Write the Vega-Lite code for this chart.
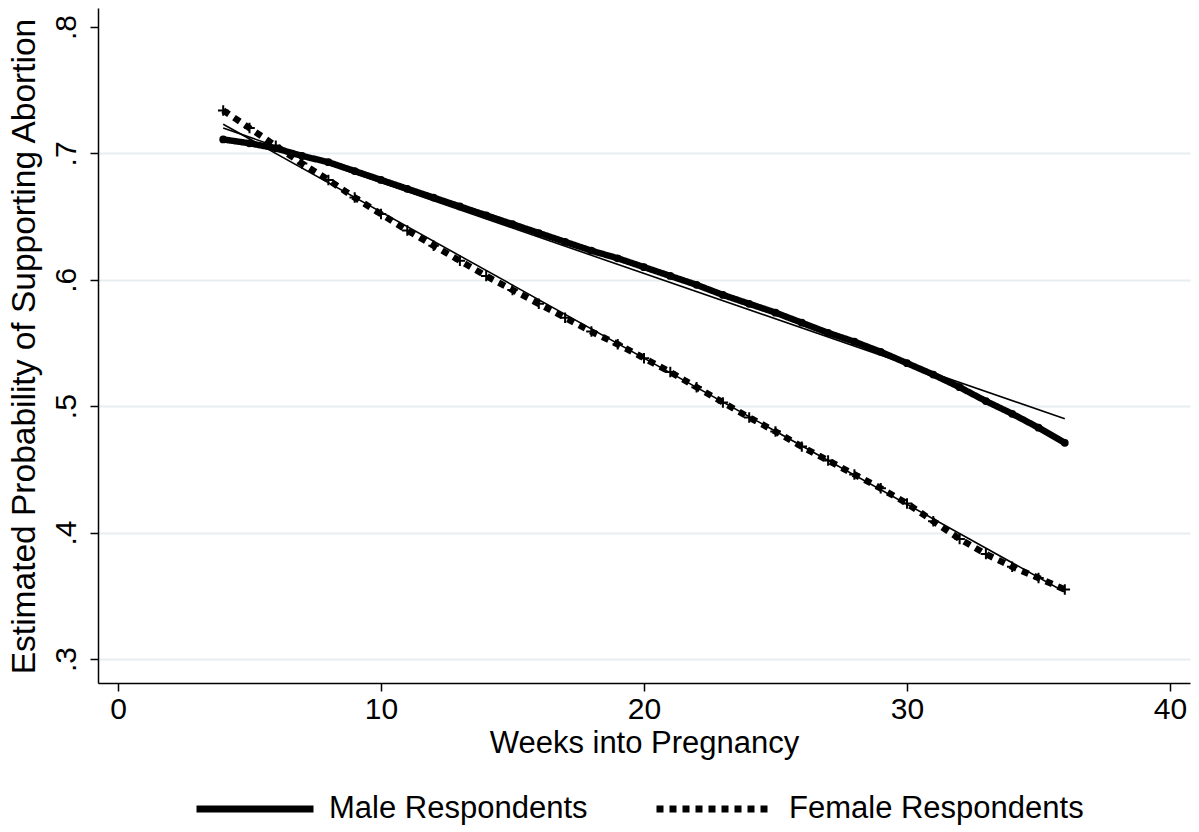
{
  "$schema": "https://vega.github.io/schema/vega-lite/v6.json",
  "autosize": "none",
  "width": 1092,
  "height": 675,
  "padding": {"left": 98, "top": 8, "right": 9, "bottom": 149},
  "background": "white",
  "config": {
    "view": {"stroke": null},
    "font": "Liberation Sans",
    "axis": {"labelFont": "Liberation Sans", "titleFont": "Liberation Sans", "labelColor": "black", "titleColor": "black", "titleFontWeight": "normal", "domainColor": "black", "tickColor": "black", "domainWidth": 1.5, "tickWidth": 1.5, "tickSize": 8},
    "legend": {"labelFont": "Liberation Sans"}
  },
  "datasets": {
    "curves": [
      {"week": 4, "prob": 0.711, "group": "Male Respondents"},
      {"week": 5, "prob": 0.708, "group": "Male Respondents"},
      {"week": 6, "prob": 0.704, "group": "Male Respondents"},
      {"week": 7, "prob": 0.698, "group": "Male Respondents"},
      {"week": 8, "prob": 0.693, "group": "Male Respondents"},
      {"week": 9, "prob": 0.686, "group": "Male Respondents"},
      {"week": 10, "prob": 0.679, "group": "Male Respondents"},
      {"week": 11, "prob": 0.672, "group": "Male Respondents"},
      {"week": 12, "prob": 0.665, "group": "Male Respondents"},
      {"week": 13, "prob": 0.658, "group": "Male Respondents"},
      {"week": 14, "prob": 0.651, "group": "Male Respondents"},
      {"week": 15, "prob": 0.644, "group": "Male Respondents"},
      {"week": 16, "prob": 0.637, "group": "Male Respondents"},
      {"week": 17, "prob": 0.630, "group": "Male Respondents"},
      {"week": 18, "prob": 0.623, "group": "Male Respondents"},
      {"week": 19, "prob": 0.617, "group": "Male Respondents"},
      {"week": 20, "prob": 0.610, "group": "Male Respondents"},
      {"week": 21, "prob": 0.603, "group": "Male Respondents"},
      {"week": 22, "prob": 0.596, "group": "Male Respondents"},
      {"week": 23, "prob": 0.588, "group": "Male Respondents"},
      {"week": 24, "prob": 0.581, "group": "Male Respondents"},
      {"week": 25, "prob": 0.574, "group": "Male Respondents"},
      {"week": 26, "prob": 0.566, "group": "Male Respondents"},
      {"week": 27, "prob": 0.558, "group": "Male Respondents"},
      {"week": 28, "prob": 0.551, "group": "Male Respondents"},
      {"week": 29, "prob": 0.543, "group": "Male Respondents"},
      {"week": 30, "prob": 0.534, "group": "Male Respondents"},
      {"week": 31, "prob": 0.525, "group": "Male Respondents"},
      {"week": 32, "prob": 0.515, "group": "Male Respondents"},
      {"week": 33, "prob": 0.504, "group": "Male Respondents"},
      {"week": 34, "prob": 0.494, "group": "Male Respondents"},
      {"week": 35, "prob": 0.483, "group": "Male Respondents"},
      {"week": 36, "prob": 0.471, "group": "Male Respondents"},
      {"week": 4, "prob": 0.734, "group": "Female Respondents"},
      {"week": 5, "prob": 0.720, "group": "Female Respondents"},
      {"week": 6, "prob": 0.706, "group": "Female Respondents"},
      {"week": 7, "prob": 0.692, "group": "Female Respondents"},
      {"week": 8, "prob": 0.679, "group": "Female Respondents"},
      {"week": 9, "prob": 0.665, "group": "Female Respondents"},
      {"week": 10, "prob": 0.652, "group": "Female Respondents"},
      {"week": 11, "prob": 0.639, "group": "Female Respondents"},
      {"week": 12, "prob": 0.627, "group": "Female Respondents"},
      {"week": 13, "prob": 0.615, "group": "Female Respondents"},
      {"week": 14, "prob": 0.603, "group": "Female Respondents"},
      {"week": 15, "prob": 0.592, "group": "Female Respondents"},
      {"week": 16, "prob": 0.581, "group": "Female Respondents"},
      {"week": 17, "prob": 0.570, "group": "Female Respondents"},
      {"week": 18, "prob": 0.559, "group": "Female Respondents"},
      {"week": 19, "prob": 0.549, "group": "Female Respondents"},
      {"week": 20, "prob": 0.538, "group": "Female Respondents"},
      {"week": 21, "prob": 0.527, "group": "Female Respondents"},
      {"week": 22, "prob": 0.515, "group": "Female Respondents"},
      {"week": 23, "prob": 0.503, "group": "Female Respondents"},
      {"week": 24, "prob": 0.491, "group": "Female Respondents"},
      {"week": 25, "prob": 0.480, "group": "Female Respondents"},
      {"week": 26, "prob": 0.468, "group": "Female Respondents"},
      {"week": 27, "prob": 0.457, "group": "Female Respondents"},
      {"week": 28, "prob": 0.446, "group": "Female Respondents"},
      {"week": 29, "prob": 0.435, "group": "Female Respondents"},
      {"week": 30, "prob": 0.423, "group": "Female Respondents"},
      {"week": 31, "prob": 0.409, "group": "Female Respondents"},
      {"week": 32, "prob": 0.395, "group": "Female Respondents"},
      {"week": 33, "prob": 0.383, "group": "Female Respondents"},
      {"week": 34, "prob": 0.373, "group": "Female Respondents"},
      {"week": 35, "prob": 0.364, "group": "Female Respondents"},
      {"week": 36, "prob": 0.355, "group": "Female Respondents"}
    ],
    "fits": [
      {"week": 4, "prob": 0.720, "group": "Male fit"},
      {"week": 36, "prob": 0.490, "group": "Male fit"},
      {"week": 4, "prob": 0.723, "group": "Female fit"},
      {"week": 36, "prob": 0.353, "group": "Female fit"}
    ]
  },
  "layer": [
    {
      "data": {"name": "fits"},
      "mark": {"type": "line", "color": "black", "strokeWidth": 1.6},
      "encoding": {
        "x": {"field": "week", "type": "quantitative", "scale": {"domain": [-0.76, 40.76], "nice": false, "zero": false}},
        "y": {"field": "prob", "type": "quantitative", "scale": {"domain": [0.281, 0.815], "nice": false, "zero": false}},
        "detail": {"field": "group"}
      }
    },
    {
      "data": {"name": "curves"},
      "mark": {"type": "line", "color": "black", "strokeWidth": 6.5, "strokeCap": "butt", "strokeJoin": "round"},
      "encoding": {
        "x": {"field": "week", "type": "quantitative", "scale": {"domain": [-0.76, 40.76], "nice": false, "zero": false},
          "axis": {"values": [0, 10, 20, 30, 40], "title": "Weeks into Pregnancy", "titleFontSize": 31, "labelFontSize": 30, "grid": false, "labelPadding": 3, "titlePadding": 4, "labelFlush": false}},
        "y": {"field": "prob", "type": "quantitative", "scale": {"domain": [0.281, 0.815], "nice": false, "zero": false},
          "axis": {"values": [0.3, 0.4, 0.5, 0.6, 0.7, 0.8], "title": "Estimated Probability of Supporting Abortion", "titleFontSize": 33.5, "labelFontSize": 30,
            "labelExpr": "replace(format(datum.value, '.1f'), '0.', '.')", "labelAngle": -90, "labelAlign": "center", "labelBaseline": "bottom", "labelPadding": 9, "labelFlush": false,
            "titleX": -74, "titleY": 338, "titleAlign": "center", "titleBaseline": "middle", "titleAngle": -90,
            "grid": true, "gridColor": "#e6eef0", "gridWidth": 2, "gridOpacity": {"condition": {"test": "datum.value > 0.75", "value": 0}, "value": 1}}},
        "strokeDash": {"field": "group", "type": "nominal",
          "scale": {"domain": ["Male Respondents", "Female Respondents"], "range": [[1, 0], [7, 6]]},
          "legend": {"title": null, "orient": "none", "legendX": 95, "legendY": 739, "direction": "horizontal", "symbolType": "stroke", "symbolSize": 13689, "symbolStrokeWidth": 7, "symbolStrokeColor": "black", "labelFontSize": 31, "labelLimit": 0, "labelColor": "black", "columnPadding": 54, "labelOffset": 12}}
      }
    },
    {
      "data": {"name": "curves"},
      "transform": [{"filter": "datum.group == 'Male Respondents'"}],
      "mark": {"type": "point", "shape": "circle", "filled": true, "color": "black", "size": 60, "opacity": 1},
      "encoding": {
        "x": {"field": "week", "type": "quantitative"},
        "y": {"field": "prob", "type": "quantitative"}
      }
    },
    {
      "data": {"name": "curves"},
      "transform": [{"filter": "datum.group == 'Female Respondents'"}],
      "mark": {"type": "point", "shape": "M-1,0L1,0M0,-1L0,1", "filled": false, "color": "black", "strokeWidth": 2, "size": 110, "opacity": 1},
      "encoding": {
        "x": {"field": "week", "type": "quantitative"},
        "y": {"field": "prob", "type": "quantitative"}
      }
    }
  ]
}
